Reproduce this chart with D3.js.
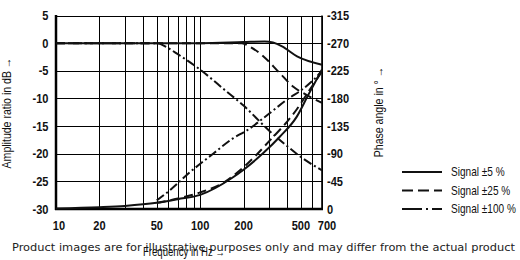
<!DOCTYPE html>
<meta charset="utf-8">
<style>
body{ margin:0; background:#fff; }
svg{ display:block; }
.grid line{ stroke:#000; stroke-width:1px; shape-rendering:crispEdges; }
.tick{ font-family:"Liberation Sans",sans-serif; font-weight:bold; font-size:13px; fill:#111; }
.lab{ font-family:"Liberation Sans",sans-serif; font-size:12px; fill:#111; }
.curve{ fill:none; stroke:#111; stroke-width:2px; }
</style>
<body>
<script src="https://cdn.jsdelivr.net/npm/d3@7"></script>
<script>
// tick labels
var freqTicks = [10, 20, 50, 100, 200, 500, 700];
var freqGrid = [10,20,30,40,50,60,70,80,90,100,200,300,400,500,600,700];
var dbTicks = [5, 0, -5, -10, -15, -20, -25, -30];
var phaseTicks = [-315, -270, -225, -180, -135, -90, -45, 0];

// amplitude ratio in dB  [Hz, dB]
var amp5   = [[10,0],[100,0],[200,0.2],[280,0.3],[320,0.1],[370,-0.6],[470,-2.4],[700,-3.9]];
var amp25  = [[10,0],[195,0],[220,-0.6],[275,-2.4],[350,-5.2],[443,-7.9],[550,-9.4],[700,-10.8]];
var amp100 = [[10,0],[50,0],[60,-0.9],[70,-2],[80,-3],[100,-4.8],[150,-8.6],[200,-11.3],[300,-15.8],[400,-18.6],[500,-20.6],[700,-23]];

// phase angle in degrees  [Hz, deg]
var ph5   = [[10,-1],[20,-3],[30,-5],[50,-10],[70,-16],[100,-23],[165,-50],[200,-64],[274,-91],[358,-118],[467,-150],[560,-185],[700,-227]];
var ph25  = [[50,-10],[70,-17],[100,-27],[150,-45],[189,-63],[250,-90],[300,-110],[400,-142],[467,-162],[560,-190],[700,-224]];
var ph100 = [[50,-14],[62,-31],[85,-60],[123,-90],[169,-115],[211,-128],[300,-155],[400,-178],[520,-196],[610,-210],[700,-225]];

var legendNames = ["Signal \u00b15 %", "Signal \u00b125 %", "Signal \u00b1100 %"];
var dashes = [null, "9,5", "9,3,2,3"];
var legendDashes = [null, "11,5", "20,4,2,4"];

var W = 520, H = 260;
var L = 56, R = 322, T = 15.5, B = 209;

var svg = d3.select("body").append("svg").attr("width", W).attr("height", H);

var x = d3.scaleLog().domain([10, 700]).range([L, R]);
var yDb = d3.scaleLinear().domain([-30, 5]).range([B, T]);
var yPh = d3.scaleLinear().domain([0, -315]).range([B, T]);

// narrow text: squeeze horizontally, the original face is condensed
function narrow(sel, tx, ty, rot, sx){
    return sel.attr("transform", "translate(" + tx + "," + ty + ")" +
        (rot ? " rotate(" + rot + ")" : "") + " scale(" + sx + ",1)");
}
function fmt(d){ return d < 0 ? "-" + Math.abs(d) : "" + d; }

// grid
var grid = svg.append("g").attr("class", "grid");
grid.selectAll(".v").data(freqGrid).enter().append("line")
    .attr("x1", function(d){ return Math.round(x(d)) + 0.5; })
    .attr("x2", function(d){ return Math.round(x(d)) + 0.5; })
    .attr("y1", T).attr("y2", B);
grid.selectAll(".h").data(dbTicks).enter().append("line")
    .attr("y1", function(d){ return Math.round(yDb(d)) + 0.5; })
    .attr("y2", function(d){ return Math.round(yDb(d)) + 0.5; })
    .attr("x1", L).attr("x2", R);

// frame: heavy left/bottom
svg.append("line").attr("x1", L).attr("x2", L).attr("y1", T - 0.5).attr("y2", B + 1)
    .attr("stroke", "#000").attr("stroke-width", 2.5);
svg.append("line").attr("x1", L - 1).attr("x2", R + 1).attr("y1", B).attr("y2", B)
    .attr("stroke", "#000").attr("stroke-width", 2.5);
svg.append("line").attr("x1", R).attr("x2", R).attr("y1", T).attr("y2", B)
    .attr("stroke", "#000").attr("stroke-width", 1.6);

// tick labels
dbTicks.forEach(function(d){
    narrow(svg.append("text").attr("class", "tick").attr("text-anchor", "end").text(fmt(d)),
        48.5, yDb(d) + 4.5, 0, 0.85);
});
phaseTicks.forEach(function(d){
    narrow(svg.append("text").attr("class", "tick").text(fmt(d)),
        327, yPh(d) + 4.5, 0, 0.85);
});
freqTicks.forEach(function(d){
    var off = d == 10 ? 3 : (d == 700 ? 5 : 0);
    narrow(svg.append("text").attr("class", "tick").attr("text-anchor", "middle").text(d),
        x(d) + off, 230, 0, 0.85);
});

// axis titles
narrow(svg.append("text").attr("class", "lab").attr("text-anchor", "middle")
    .text("Amplitude ratio in dB \u2192"), 11, 113, -90, 0.88);
narrow(svg.append("text").attr("class", "lab").attr("text-anchor", "middle")
    .text("Phase angle in \u00b0 \u2192"), 383, 112, -90, 0.88);
narrow(svg.append("text").attr("class", "lab").attr("text-anchor", "middle")
    .text("Frequency in Hz \u2192"), 184, 256, 0, 0.8);

// curves
var lineDb = d3.line().curve(d3.curveMonotoneX)
    .x(function(d){ return x(d[0]); }).y(function(d){ return yDb(d[1]); });
var linePh = d3.line().curve(d3.curveMonotoneX)
    .x(function(d){ return x(d[0]); }).y(function(d){ return yPh(d[1]); });

var ampSeries = [amp5, amp25, amp100];
var phSeries = [ph5, ph25, ph100];
var plot = svg.append("g");
ampSeries.forEach(function(s, i){
    plot.append("path").attr("class", "curve").attr("d", lineDb(s))
        .attr("stroke-dasharray", dashes[i]);
});
phSeries.forEach(function(s, i){
    plot.append("path").attr("class", "curve").attr("d", linePh(s))
        .attr("stroke-dasharray", dashes[i]);
});

// legend
legendNames.forEach(function(n, i){
    var yy = 172 + i * 18.5;
    svg.append("line").attr("x1", 402).attr("x2", 442).attr("y1", yy).attr("y2", yy)
        .attr("stroke", "#111").attr("stroke-width", 2.2)
        .attr("stroke-dasharray", legendDashes[i]);
    narrow(svg.append("text").attr("class", "lab").text(n), 451, yy + 4, 0, 0.84);
});

// disclaimer
svg.append("text").attr("x", 12).attr("y", 251)
    .attr("font-family", "DejaVu Sans").attr("font-size", 11.3).attr("fill", "#222")
    .attr("textLength", 503).attr("lengthAdjust", "spacingAndGlyphs")
    .text("Product images are for illustrative purposes only and may differ from the actual product");
</script>
